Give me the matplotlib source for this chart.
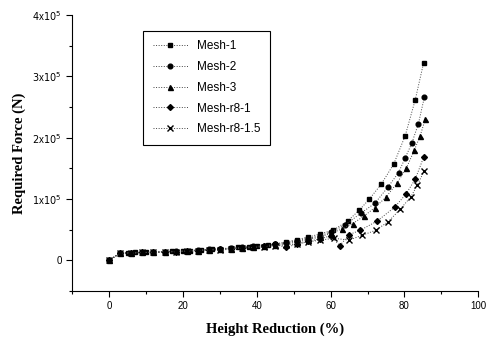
import matplotlib
matplotlib.use('Agg')
import matplotlib.pyplot as plt
from matplotlib.ticker import MultipleLocator, FuncFormatter

# height reduction (%) and force (units of 1e5 N)
x_m1 = [0, 3, 5, 7, 10, 12, 15, 17, 20, 22, 25, 28, 30, 33, 35, 38, 40, 43, 45, 48,
        51, 54, 57, 60.6, 64.6, 67.8, 70.5, 73.7, 77.1, 80.2, 82.9, 85.2]
y_m1 = [0, 0.12, 0.12, 0.13, 0.13, 0.14, 0.14, 0.15, 0.16, 0.16, 0.17, 0.18, 0.19, 0.20,
        0.21, 0.22, 0.24, 0.25, 0.27, 0.30, 0.34, 0.38, 0.43, 0.49, 0.64, 0.82, 1.00,
        1.24, 1.57, 2.03, 2.61, 3.22]

x_m2 = [0, 3, 6, 9, 12, 15, 18, 21, 24, 27, 30, 33, 36, 39, 42, 45, 48, 51, 54, 57,
        60, 64, 68.2, 72, 75.6, 78.4, 80.2, 82, 83.8, 85.4]
y_m2 = [0, 0.12, 0.12, 0.13, 0.13, 0.14, 0.15, 0.16, 0.17, 0.18, 0.19, 0.20, 0.21, 0.23,
        0.24, 0.26, 0.29, 0.32, 0.36, 0.40, 0.46, 0.58, 0.77, 0.93, 1.20, 1.43, 1.67,
        1.91, 2.23, 2.66]

x_m3 = [0, 3, 6, 9, 12, 15, 18, 21, 24, 27, 30, 33, 36, 39, 42, 45, 48, 51, 54, 57,
        60, 63, 66, 69, 72, 75, 78, 80.5, 82.7, 84.2, 85.7]
y_m3 = [0, 0.12, 0.12, 0.13, 0.13, 0.14, 0.15, 0.15, 0.16, 0.17, 0.18, 0.19, 0.20, 0.22,
        0.23, 0.25, 0.27, 0.30, 0.34, 0.38, 0.44, 0.51, 0.60, 0.72, 0.86, 1.03, 1.26,
        1.50, 1.80, 2.02, 2.31]

x_r81 = [0, 3, 6, 9, 12, 15, 18, 21, 24, 27, 30, 33, 36, 39, 42, 45, 48, 51, 54, 57,
         60, 62.5, 65, 68, 72.6, 77.4, 80.4, 82.9, 85.2]
y_r81 = [0, 0.12, 0.12, 0.13, 0.13, 0.14, 0.14, 0.15, 0.16, 0.17, 0.18, 0.19, 0.20, 0.21,
         0.23, 0.26, 0.21, 0.27, 0.31, 0.35, 0.40, 0.24, 0.42, 0.49, 0.64, 0.87, 1.08,
         1.32, 1.68]

x_r815 = [0, 3, 6, 9, 12, 15, 18, 21, 24, 27, 30, 33, 36, 39, 42, 45, 48, 51, 54, 57,
          61, 65, 68.6, 72.2, 75.6, 78.8, 81.8, 83.5, 85.3]
y_r815 = [0, 0.12, 0.12, 0.13, 0.13, 0.14, 0.14, 0.15, 0.16, 0.17, 0.17, 0.18, 0.20, 0.21,
          0.22, 0.24, 0.25, 0.27, 0.30, 0.33, 0.36, 0.33, 0.41, 0.49, 0.63, 0.83, 1.04,
          1.23, 1.45]

labels = ['Mesh-1', 'Mesh-2', 'Mesh-3', 'Mesh-r8-1', 'Mesh-r8-1.5']

fig = plt.figure(figsize=(4.88, 3.42), dpi=100)
ax = fig.add_axes([0.148, 0.149, 0.832, 0.807])

series = [(x_m1, y_m1, 's', 3.4), (x_m2, y_m2, 'o', 3.4), (x_m3, y_m3, '^', 3.6),
          (x_r81, y_r81, 'D', 3.0), (x_r815, y_r815, 'x', 4.5)]
for (xs, ys, mk, ms), lab in zip(series, labels):
    ax.plot(xs, [v * 1e5 for v in ys], ls=':', lw=0.7, color='#444444',
            marker=mk, ms=ms, mfc='black', mec='black', mew=1.0, label=lab)

ax.set_xlim(-10, 100)
ax.set_ylim(-0.5e5, 4e5)
ax.xaxis.set_major_locator(MultipleLocator(20))
ax.xaxis.set_minor_locator(MultipleLocator(10))
ax.yaxis.set_major_locator(MultipleLocator(1e5))
ax.yaxis.set_minor_locator(MultipleLocator(0.5e5))

def yfmt(v, pos):
    n = int(round(v / 1e5))
    if n == 0:
        return '0'
    return r'$%d\mathregular{x}10^5$' % n

ax.yaxis.set_major_formatter(FuncFormatter(yfmt))
ax.spines['top'].set_visible(False)
ax.spines['right'].set_visible(False)
ax.tick_params(which='both', direction='out', labelsize=7, width=0.8)
ax.tick_params(which='major', length=4)
ax.tick_params(which='minor', length=2)
for t in ax.get_xticklabels() + ax.get_yticklabels():
    t.set_fontfamily('Liberation Sans')

ax.set_xlabel('Height Reduction (%)', fontfamily='Liberation Serif',
              fontweight='bold', fontsize=10.5, labelpad=8)
ax.set_ylabel('Required Force (N)', fontfamily='Liberation Serif',
              fontweight='bold', fontsize=10.5, labelpad=5)

leg = ax.legend(loc='upper left', bbox_to_anchor=(0.16, 0.965), frameon=True,
                fancybox=False, edgecolor='black', framealpha=1,
                prop={'family': 'Liberation Sans', 'size': 8.5},
                handlelength=3.0, labelspacing=0.75, borderpad=0.8)
leg.get_frame().set_linewidth(0.8)

fig.savefig('out.png', dpi=100)
